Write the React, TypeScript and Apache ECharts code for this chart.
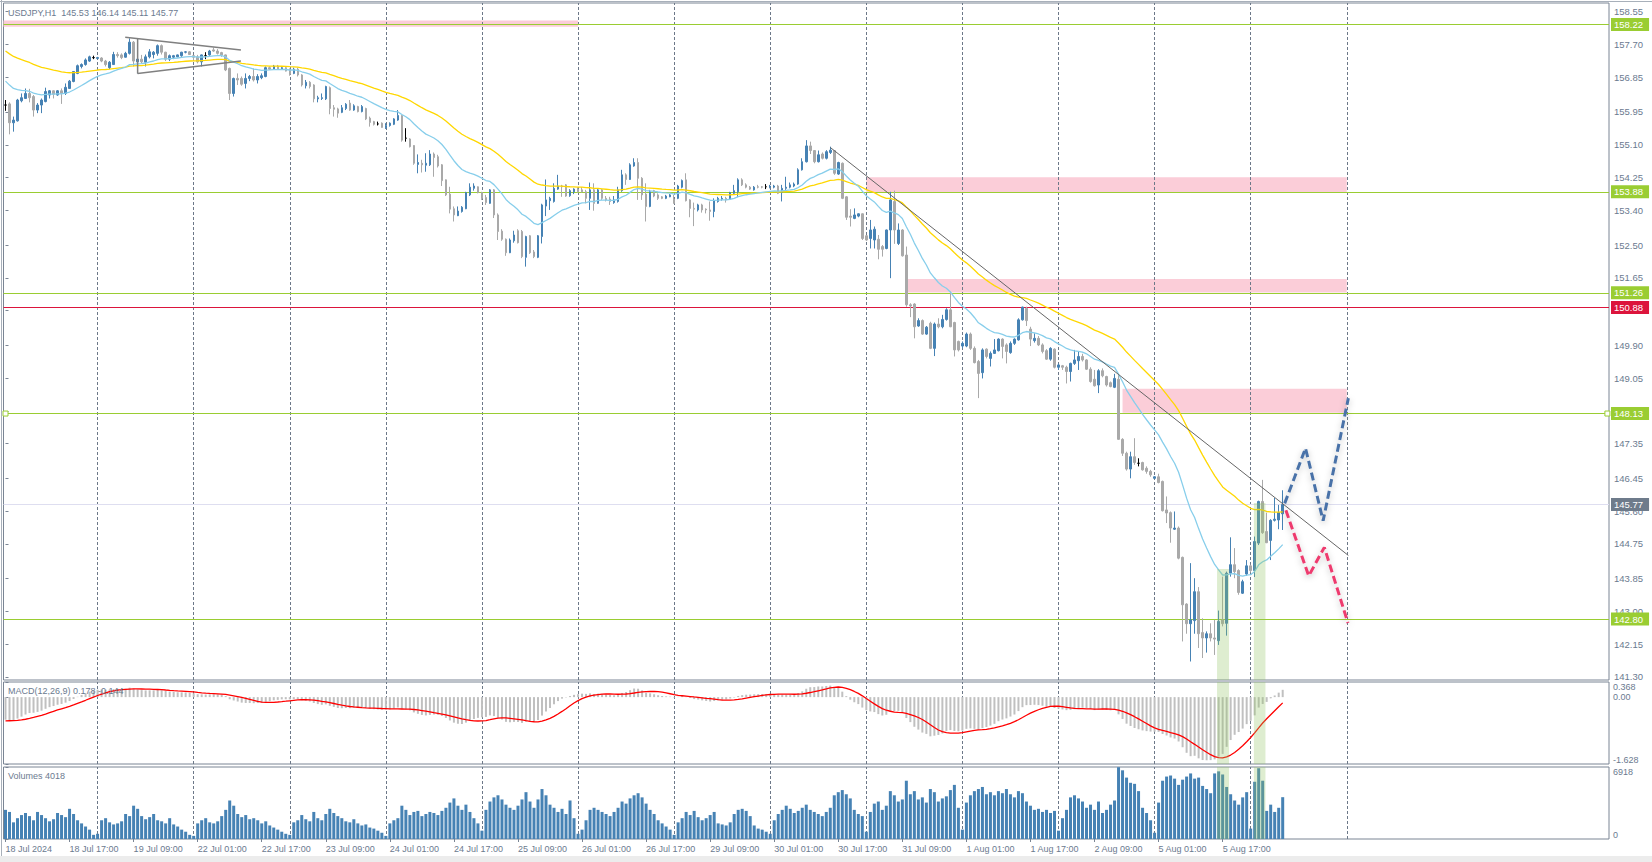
import React, { useEffect, useRef } from "react";
import * as echarts from "echarts";

const SYMBOL_TITLE = "USDJPY,H1  145.53 146.14 145.11 145.77";
const MACD_TITLE = "MACD(12,26,9) 0.178 -0.144";
const VOLUME_TITLE = "Volumes 4018";

// hourly bars starting 18 Jul 2024 01:00 — [open, close, low, high]
const candles: number[][] = [
  [156.13,156.13,155.98,156.26],[156.16,155.67,155.37,156.20],[155.67,155.74,155.44,155.83],[155.72,156.26,155.70,156.29],
  [156.24,156.32,156.20,156.43],[156.30,156.43,156.29,156.56],[156.43,156.32,156.20,156.55],[156.35,156.00,155.83,156.39],
  [156.00,156.13,155.92,156.18],[156.13,156.26,155.92,156.30],[156.22,156.48,156.20,156.58],[156.39,156.50,156.30,156.52],
  [156.50,156.41,156.30,156.51],[156.39,156.50,156.37,156.52],[156.50,156.43,156.16,156.56],[156.43,156.59,156.39,156.69],
  [156.56,156.75,156.55,156.78],[156.74,157.00,156.72,157.01],[156.95,157.15,156.93,157.18],[157.13,157.18,157.08,157.21],
  [157.18,157.30,157.15,157.34],[157.27,157.38,157.25,157.41],[157.36,157.36,157.32,157.41],[157.34,157.36,157.32,157.38],
  [157.35,157.27,157.24,157.37],[157.27,157.18,157.13,157.30],[157.10,157.24,157.06,157.27],[157.18,157.44,157.17,157.51],
  [157.44,157.41,157.36,157.50],[157.43,157.36,157.32,157.47],[157.37,157.47,157.36,157.51],[157.47,157.76,157.44,157.86],
  [157.76,157.27,157.13,157.79],[157.25,157.32,156.95,157.58],[157.32,157.25,157.21,157.43],[157.24,157.38,157.13,157.44],
  [157.38,157.51,157.34,157.58],[157.44,157.50,157.34,157.53],[157.47,157.67,157.41,157.70],[157.67,157.50,157.44,157.70],
  [157.50,157.32,157.27,157.51],[157.32,157.41,157.27,157.44],[157.37,157.41,157.32,157.43],[157.38,157.43,157.37,157.44],
  [157.41,157.50,157.38,157.51],[157.50,157.51,157.47,157.53],[157.51,157.44,157.43,157.53],[157.41,157.37,157.27,157.43],
  [157.38,157.25,157.21,157.43],[157.25,157.43,157.13,157.44],[157.41,157.41,157.32,157.50],[157.43,157.53,157.41,157.56],
  [157.56,157.53,157.51,157.62],[157.53,157.47,157.44,157.58],[157.49,157.43,157.38,157.51],[157.43,157.04,157.01,157.44],
  [157.08,156.43,156.26,157.10],[156.43,156.82,156.35,156.84],[156.82,156.78,156.65,156.95],[156.82,156.67,156.63,156.87],
  [156.69,156.82,156.56,156.95],[156.82,156.87,156.75,156.91],[156.87,156.78,156.74,157.08],[156.78,156.87,156.69,156.93],
  [156.84,156.89,156.80,156.95],[156.87,157.10,156.85,157.13],[157.10,157.06,157.04,157.13],[157.06,157.14,157.04,157.17],
  [157.14,157.06,157.04,157.17],[157.06,157.10,157.04,157.13],[157.10,157.01,157.00,157.13],[157.04,156.93,156.89,157.08],
  [156.95,157.06,156.93,157.10],[157.06,156.91,156.87,157.10],[156.91,156.65,156.61,156.93],[156.63,156.72,156.56,156.78],
  [156.72,156.61,156.56,156.75],[156.65,156.29,156.20,156.67],[156.29,156.32,156.20,156.37],[156.30,156.32,156.26,156.43],
  [156.29,156.61,156.26,156.63],[156.58,156.04,155.89,156.61],[156.06,156.02,155.83,156.13],[156.03,155.92,155.80,156.06],
  [155.94,156.06,155.92,156.13],[156.04,156.15,156.00,156.18],[156.18,156.00,155.98,156.26],[156.00,156.11,155.98,156.15],
  [156.09,155.96,155.94,156.11],[155.96,156.09,155.94,156.13],[156.04,155.77,155.74,156.06],[155.79,155.68,155.57,155.83],
  [155.70,155.63,155.60,155.72],[155.64,155.64,155.60,155.70],[155.66,155.55,155.54,155.68],[155.54,155.60,155.51,155.66],
  [155.60,155.66,155.57,155.68],[155.63,155.77,155.61,155.79],[155.74,155.86,155.72,156.00],[155.86,155.22,155.18,155.87],
  [155.27,155.27,155.18,155.53],[155.25,155.05,155.03,155.27],[155.08,154.62,154.58,155.09],[154.59,154.64,154.36,154.85],
  [154.62,154.58,154.38,154.71],[154.57,154.62,154.40,154.88],[154.58,154.86,154.55,154.96],[154.86,154.77,154.27,154.90],
  [154.79,154.55,154.51,154.84],[154.58,154.17,154.03,154.60],[154.19,153.80,153.77,154.20],[153.82,153.43,153.32,154.01],
  [153.44,153.28,153.11,153.50],[153.26,153.38,153.25,153.50],[153.37,153.48,153.34,153.51],[153.44,153.86,153.43,153.88],
  [153.80,154.00,153.77,154.10],[153.97,154.03,153.91,154.10],[154.01,153.86,153.84,154.02],[153.86,153.71,153.67,153.88],
  [153.73,153.60,153.54,153.80],[153.58,153.93,153.57,153.95],[153.93,153.28,153.20,153.95],[153.28,152.85,152.63,153.32],
  [152.86,152.65,152.61,152.91],[152.65,152.30,152.22,152.67],[152.30,152.63,152.29,152.67],[152.61,152.76,152.56,152.87],
  [152.87,152.56,152.54,152.91],[152.85,152.20,152.16,152.89],[152.18,152.72,151.94,152.74],[152.74,152.30,152.27,152.76],
  [152.32,152.20,152.16,152.37],[152.18,152.74,152.16,152.76],[152.72,153.54,152.54,153.57],[153.51,153.67,153.25,154.20],
  [153.65,153.71,153.41,153.75],[153.63,153.97,153.60,154.10],[153.95,154.03,153.93,154.32],[154.03,154.01,153.75,154.06],
  [154.06,153.77,153.75,154.08],[153.78,153.91,153.75,153.95],[153.88,153.95,153.82,153.97],[153.95,153.88,153.86,154.00],
  [153.93,153.88,153.86,154.00],[153.88,153.71,153.58,153.93],[153.71,153.93,153.41,154.12],[153.93,153.58,153.39,154.10],
  [153.58,153.93,153.57,153.97],[153.93,153.71,153.67,153.95],[153.71,153.67,153.63,153.77],[153.69,153.63,153.54,153.75],
  [153.60,153.67,153.57,153.77],[153.63,153.93,153.60,154.01],[153.91,154.32,153.88,154.45],[154.32,154.20,154.06,154.36],
  [154.20,154.58,154.19,154.62],[154.55,154.64,154.53,154.75],[154.64,154.23,153.67,154.75],[154.23,153.80,153.67,154.26],
  [153.82,153.50,153.11,154.10],[153.50,153.88,153.48,153.93],[153.91,153.77,153.74,153.93],[153.80,153.71,153.67,153.84],
  [153.75,153.71,153.69,153.77],[153.71,153.77,153.69,153.80],[153.75,153.80,153.74,153.82],[153.69,153.58,153.57,153.80],
  [153.71,154.03,153.69,154.06],[154.00,154.17,153.97,154.20],[154.19,153.65,153.63,154.36],[153.67,153.45,153.22,153.69],
  [153.45,153.43,152.99,153.60],[153.41,153.54,153.37,153.57],[153.54,153.41,153.34,153.57],[153.43,153.41,153.32,153.45],
  [153.41,153.37,153.13,153.63],[153.37,153.65,153.22,153.71],[153.63,153.71,153.60,153.75],[153.69,153.71,153.65,153.77],
  [153.71,153.67,153.60,153.75],[153.69,153.86,153.67,153.88],[153.84,153.91,153.80,154.06],[153.88,154.19,153.74,154.23],
  [154.19,154.06,154.03,154.23],[154.06,154.00,153.97,154.10],[154.00,153.95,153.93,154.03],[153.93,154.00,153.91,154.03],
  [154.01,154.00,153.97,154.06],[154.01,154.00,153.97,154.03],[154.01,154.01,153.95,154.08],[154.00,154.03,153.97,154.06],
  [154.00,154.03,153.97,154.06],[154.03,153.84,153.82,154.06],[153.86,153.97,153.63,154.06],[153.97,154.00,153.93,154.27],
  [154.00,154.06,153.97,154.12],[154.03,154.08,154.00,154.12],[154.08,154.45,154.06,154.49],[154.45,154.66,154.43,154.75],
  [154.66,155.07,154.64,155.22],[155.07,154.95,154.86,155.18],[154.95,154.66,154.62,154.96],[154.66,154.84,154.64,154.95],
  [154.86,154.75,154.72,154.90],[154.75,154.92,154.72,154.96],[154.90,154.96,154.86,155.05],[154.95,154.36,154.32,154.96],
  [154.34,154.64,154.32,154.66],[154.62,153.71,153.69,154.64],[153.75,153.22,153.15,153.77],[153.25,153.22,152.98,153.43],
  [153.19,153.28,153.17,153.45],[153.25,153.31,153.22,153.32],[153.31,152.67,152.63,153.32],[152.74,152.63,152.61,152.76],
  [152.67,152.89,152.41,153.15],[152.63,152.91,152.41,152.98],[152.65,152.39,152.13,152.76],[152.46,152.39,152.20,152.50],
  [152.41,152.89,152.39,152.90],[152.89,153.67,151.64,153.88],[153.63,152.89,152.53,153.91],[152.54,152.89,152.50,153.06],
  [152.89,152.22,152.20,152.91],[152.24,150.95,150.90,152.46],[150.95,150.92,150.63,150.99],[150.97,150.38,150.08,150.99],
  [150.40,150.54,150.38,150.60],[150.54,150.19,150.17,150.57],[150.19,150.37,150.17,150.40],[150.47,149.82,149.80,150.51],
  [149.82,150.45,149.62,150.49],[150.45,150.38,150.34,150.60],[150.38,150.57,150.34,150.69],[150.57,150.82,150.54,150.86],
  [150.82,150.38,150.37,151.29],[150.49,149.78,149.61,150.51],[150.00,149.78,149.74,150.02],[149.88,149.95,149.82,150.00],
  [149.88,150.19,149.85,150.23],[150.19,149.82,149.78,150.23],[149.82,149.45,149.43,149.87],[149.48,149.17,148.53,149.52],
  [149.19,149.78,149.04,149.82],[149.80,149.61,149.56,149.82],[149.56,149.69,149.35,149.74],[149.69,149.78,149.68,150.06],
  [149.76,150.06,149.74,150.08],[150.06,149.87,149.56,150.08],[149.91,149.74,149.43,149.95],[149.71,149.95,149.68,150.00],
  [149.95,150.06,149.91,150.08],[150.04,150.56,150.02,150.60],[150.56,150.89,150.54,150.90],[150.86,150.54,150.40,150.90],
  [150.32,150.06,149.88,150.38],[150.02,150.08,149.97,150.21],[150.08,149.91,149.88,150.14],[149.91,149.74,149.69,149.95],
  [149.76,149.54,149.52,149.80],[149.54,149.82,149.50,149.85],[149.80,149.33,149.30,149.82],[149.33,149.39,149.26,149.43],
  [149.37,149.33,149.26,149.39],[149.33,149.22,148.91,149.37],[149.22,149.43,148.96,149.45],[149.43,149.52,149.39,149.78],
  [149.50,149.61,149.26,149.74],[149.61,149.52,149.48,149.68],[149.52,149.28,149.26,149.54],[149.28,148.96,148.93,149.33],
  [149.02,148.85,148.83,149.26],[148.87,149.24,148.66,149.28],[149.24,149.11,149.07,149.30],[149.09,148.87,148.83,149.11],
  [148.93,148.83,148.81,148.96],[148.81,149.04,148.79,149.16],[149.02,147.46,147.45,149.13],[147.46,147.10,147.03,147.49],
  [147.10,146.69,146.65,147.14],[146.69,147.01,146.45,147.14],[147.01,146.86,146.80,147.49],[146.84,146.84,146.76,146.97],
  [146.86,146.67,146.65,146.88],[146.71,146.63,146.57,146.76],[146.63,146.54,146.49,146.67],[146.45,146.49,146.43,146.50],
  [146.49,146.34,146.32,146.57],[146.37,145.61,145.59,146.39],[145.63,145.55,145.29,145.98],[145.56,145.16,144.78,145.59],
  [145.13,145.16,145.11,145.59],[145.16,144.38,144.35,145.20],[144.40,143.17,142.22,144.42],[143.19,142.68,142.42,143.21],
  [142.68,142.78,141.70,144.25],[142.76,143.51,142.42,143.86],[143.51,142.42,142.05,143.63],[142.45,142.31,141.79,142.82],
  [142.31,142.42,141.93,142.48],[142.42,142.31,142.22,142.69],[142.31,142.28,141.87,142.78],[142.24,142.74,142.13,143.02],
  [142.78,142.68,142.61,143.90],[142.69,143.99,142.37,144.03],[143.99,144.21,143.90,144.92],[144.21,144.03,143.86,144.64],
  [144.06,143.49,143.43,144.09],[143.47,143.77,143.45,143.82],[143.97,144.18,143.92,144.33],[144.18,144.06,144.01,144.21],
  [144.06,144.81,143.89,144.94],[144.77,145.85,144.72,145.87],[145.85,145.04,145.01,146.41],[145.07,144.78,144.77,145.56],
  [144.84,145.36,144.33,145.39],[145.36,145.39,145.33,145.94],[145.37,145.56,145.13,145.76],[145.53,145.77,145.11,146.14],
];
const dojiIndices = [0, 22, 50, 93, 100, 190, 283];

const volumes: number[] = [
  2800,2600,1600,2000,2300,2500,2200,1800,2600,2300,2000,1700,1900,2500,2300,2100,2900,2400,1800,1500,1200,900,400,
  500,1800,2000,1600,1400,1500,1700,2400,2200,3200,2900,2200,1900,2100,2400,1800,1700,1500,2000,1400,1200,900,700,400,
  300,1500,1800,2000,1600,1500,1700,2200,2800,3700,3200,2400,2100,2300,1900,2000,1800,1500,1700,1300,1100,900,700,500,
  400,1600,1800,2300,1900,1700,2600,2000,1800,2400,2900,2500,2200,2000,1700,1600,1900,1500,1300,1400,1100,1000,800,600,
  300,1500,1800,2000,3200,2800,2300,2600,2700,2200,2400,2600,2500,2300,2700,3000,3500,3900,3200,2800,3300,2600,2000,1500,
  800,2800,3600,4000,4200,3800,3300,3000,2800,3200,3800,4500,3600,3000,3800,4800,4200,3300,3000,2600,2900,2400,3700,2000,
  500,900,1800,2800,3000,2800,2600,2400,2200,2600,3000,3600,3400,3900,4200,4400,4000,3400,2800,2400,1800,1500,1200,900,
  400,1600,2000,2600,2300,2700,2100,1800,2000,2300,2600,1500,1400,1300,1600,2400,2800,2900,2700,2200,1300,1000,900,700,
  500,1800,2400,2800,3200,2900,2500,2700,3000,3300,2800,2600,2400,2200,2600,3000,4200,4500,4700,4300,3900,2800,2400,2200,
  700,2600,3400,3600,2800,3200,4600,4200,3600,3800,5600,4300,4600,3800,4000,3500,4800,4500,3600,3900,4100,4700,5200,3000,
  900,3500,4200,4600,4800,5000,4300,4500,4200,4600,4400,4800,4300,4000,4600,4400,3600,3200,2800,2900,2600,2800,2500,2700,
  800,2000,2800,4000,4200,3900,3600,3000,3300,2800,3600,2500,2800,3300,3700,6900,6600,5900,5400,5300,4600,3000,2500,1800,
  600,3500,5600,6000,6100,5800,5200,5700,6000,6300,5800,5900,5100,4800,4400,6300,6500,6200,5000,4300,3700,3300,4000,4500,
  1000,5500,6800,5600,2700,3300,2600,3000,4018,
];

const priceTicks = [158.55,157.70,156.85,155.95,155.10,154.25,153.40,152.50,151.65,150.80,149.90,149.05,148.20,147.35,146.45,145.60,144.75,143.85,143.00,142.15,141.30];
const macdTicks = [-1.628, 0, 0.368];
const volumeTicks = [0, 6918];

const levels = [
  { value: 158.22, color: "#9acd32", label: "158.22" },
  { value: 153.88, color: "#9acd32", label: "153.88" },
  { value: 151.26, color: "#9acd32", label: "151.26" },
  { value: 150.88, color: "#dc143c", label: "150.88" },
  { value: 148.13, color: "#9acd32", label: "148.13" },
  { value: 142.80, color: "#9acd32", label: "142.80" },
];
const bidLevel = { value: 145.77, label: "145.77" };
const selectedLevel = 148.13;

// supply zones: [fromBar, toBar, low, high]
const zones = [
  [-0.5, 143, 158.16, 158.32],
  [215, 335, 153.86, 154.26],
  [225, 335, 151.27, 151.62],
  [279, 335, 148.15, 148.77],
];
// highlighted bars: [fromBar, toBar, topPrice]
const highlights = [
  [302.6, 305.6, 144.10],
  [311.8, 314.7, 145.81],
];
const trendLine = [[206, 155.03], [335.4, 144.45]];
const triangleTop = [[29.9, 157.89], [58.8, 157.56]];
const triangleSide = [[33, 157.855], [33, 156.95]];
const triangleBottom = [[33, 156.95], [58.8, 157.27]];
const bullPath = [[319.5, 145.80], [324.7, 147.23], [329.1, 145.35], [335.4, 148.53]];
const bearPath = [[319.8, 145.62], [325.5, 143.92], [329.4, 144.66], [335.3, 142.70]];

// indicator starting values read at the first bar
const EMA_FAST_START = 156.75;
const EMA_SLOW_START = 157.53;
const MACD_EMA12_START = 156.40;
const MACD_EMA26_START = 156.95;
const MACD_SIGNAL_START = -0.58;

const N_SLOTS = 401;
const LAST_GRID_BAR = 335;
const START_UTC = Date.UTC(2024, 6, 18, 1);
const MONTHS = ["Jan","Feb","Mar","Apr","May","Jun","Jul","Aug","Sep","Oct","Nov","Dec"];

const TEXT = "#6b7a8f";
const FRAME = "#7a8594";
const FONT = '"Liberation Sans", Arial, sans-serif';

function buildTimes(n: number): number[] {
  const out: number[] = [];
  let t = START_UTC;
  while (out.length < n) {
    const wd = new Date(t).getUTCDay();
    if (wd !== 0 && wd !== 6) out.push(t);
    t += 3600000;
  }
  return out;
}

function ema(src: number[], period: number, start: number): number[] {
  const k = 2 / (period + 1);
  const out: number[] = [];
  let prev = start;
  src.forEach((v, i) => {
    prev = i === 0 ? start : prev + k * (v - prev);
    out.push(prev);
  });
  return out;
}

export default function App() {
  const ref = useRef<HTMLDivElement>(null);

  useEffect(() => {
    document.body.style.margin = "0";
    const el = ref.current!;
    const chart = echarts.init(el, undefined, { renderer: "svg" });

    const times = buildTimes(N_SLOTS);
    const categories = times.map((t) => {
      const d = new Date(t);
      return `${d.getUTCFullYear()}-${d.getUTCMonth() + 1}-${d.getUTCDate()} ${d.getUTCHours()}`;
    });
    const labelText = times.map((t, i) => {
      const d = new Date(t);
      if (i === 0) return `${d.getUTCDate()} ${MONTHS[d.getUTCMonth()]} ${d.getUTCFullYear()}`;
      return `${d.getUTCDate()} ${MONTHS[d.getUTCMonth()]} ${String(d.getUTCHours()).padStart(2, "0")}:00`;
    });
    const gridBars = times
      .map((t, i) => ({ h: new Date(t).getUTCHours(), i }))
      .filter((o) => o.h === 0 && o.i <= LAST_GRID_BAR)
      .map((o) => o.i);

    const closes = candles.map((c) => c[1]);
    const emaFast = ema(closes, 20, EMA_FAST_START);
    const emaSlow = ema(closes, 50, EMA_SLOW_START);
    const e12 = ema(closes, 12, MACD_EMA12_START);
    const e26 = ema(closes, 26, MACD_EMA26_START);
    const macd = closes.map((_, i) => e12[i] - e26[i]);
    const signal = macd.map((_, i) => {
      let s = 0;
      for (let j = i - 8; j <= i; j++) s += j < 0 ? MACD_SIGNAL_START : macd[j];
      return s / 9;
    });

    const labelEvery = (idx: number) => idx % 16 === 0 && idx < candles.length;

    const catAxis = (gi: number, labels: boolean) => ({
      type: "category",
      gridIndex: gi,
      data: categories,
      boundaryGap: true,
      axisLine: { show: false },
      axisTick: { show: labels, interval: labelEvery, alignWithLabel: true, length: 3, lineStyle: { color: FRAME } },
      axisLabel: {
        show: labels, interval: labelEvery, align: "left", margin: 5,
        fontSize: 9, color: TEXT, fontFamily: FONT,
        formatter: (_v: string, i: number) => labelText[i],
      },
      splitLine: { show: false },
    });
    const valAxis = (gi: number) => ({ type: "value", gridIndex: gi, min: -0.5, max: N_SLOTS - 0.5, show: false });

    const yCommon = {
      type: "value", position: "right",
      axisLine: { show: false },
      splitLine: { show: false },
    };

    const vLines = gridBars.map((i) => ({
      xAxis: i,
      lineStyle: { type: [3, 2], color: "#6c7888", width: 1 },
      label: { show: false },
    }));

    const levelLines = [
      ...levels.map((l) => ({
        yAxis: l.value,
        lineStyle: { type: "solid", color: l.color, width: 1 },
        label: {
          show: true, position: "end", distance: 2, formatter: l.label,
          color: "#ffffff", backgroundColor: l.color, padding: [2, 6, 1, 3],
          fontSize: 9.5, fontFamily: FONT,
        },
      })),
      {
        yAxis: bidLevel.value,
        lineStyle: { type: "solid", color: "#dedef0", width: 1 },
        label: {
          show: true, position: "end", distance: 2, formatter: bidLevel.label,
          color: "#ffffff", backgroundColor: "#6e7b8b", padding: [2, 6, 1, 3],
          fontSize: 9.5, fontFamily: FONT,
        },
      },
    ];

    const greenArea = "rgba(145,195,98,0.3)";

    const candleData = candles.map((c, i) =>
      dojiIndices.includes(i)
        ? { value: c, itemStyle: { color: "#000", color0: "#000", borderColor: "#000", borderColor0: "#000" } }
        : c
    );

    const lineSeries = (data: number[][], color: string, width: number, extra: any = {}) => ({
      type: "line", xAxisIndex: 3, yAxisIndex: 0, data, showSymbol: false, symbol: "none",
      silent: true, z: 6, lineStyle: { color, width, ...extra },
    });

    const option: any = {
      animation: false,
      backgroundColor: "#ffffff",
      textStyle: { fontFamily: FONT },
      grid: [
        { left: 3.5, right: 43, top: 3, height: 677 },
        { left: 3.5, right: 43, top: 682, height: 82 },
        { left: 3.5, right: 43, top: 767, height: 72 },
      ].map((g) => ({ ...g, show: true, borderColor: FRAME, borderWidth: 1, backgroundColor: "#ffffff", containLabel: false, outerBoundsMode: "none" })),
      xAxis: [catAxis(0, false), catAxis(1, false), catAxis(2, true), valAxis(0), valAxis(1), valAxis(2)],
      yAxis: [
        {
          ...yCommon, gridIndex: 0, min: 141.22, max: 158.776,
          axisTick: { show: true, length: 3, customValues: priceTicks, lineStyle: { color: FRAME } },
          axisLabel: { customValues: priceTicks, margin: 5, fontSize: 9.5, color: TEXT, fontFamily: FONT, formatter: (v: number) => v.toFixed(2) },
        },
        {
          ...yCommon, gridIndex: 1, min: -1.628, max: 0.368,
          axisTick: { show: true, length: 3, customValues: macdTicks, lineStyle: { color: FRAME } },
          axisLabel: {
            customValues: macdTicks, margin: 4, fontSize: 9, color: TEXT, fontFamily: FONT,
            verticalAlignMinLabel: "bottom", verticalAlignMaxLabel: "top",
            formatter: (v: number) => (v === 0 ? "0.00" : v.toFixed(3)),
          },
        },
        {
          ...yCommon, gridIndex: 2, min: 0, max: 6918,
          axisTick: { show: true, length: 3, customValues: volumeTicks, lineStyle: { color: FRAME } },
          axisLabel: {
            customValues: volumeTicks, margin: 4, fontSize: 9, color: TEXT, fontFamily: FONT,
            verticalAlignMinLabel: "bottom", verticalAlignMaxLabel: "top",
            formatter: (v: number) => String(v),
          },
        },
      ],
      series: [
        {
          type: "line", xAxisIndex: 3, yAxisIndex: 0, data: [], silent: true,
          markArea: {
            silent: true, z: 1, itemStyle: { color: "#fbcdd8" },
            data: zones.map(([a, b, lo, hi]) => [{ xAxis: a, yAxis: hi }, { xAxis: b, yAxis: lo }]),
          },
        },
        {
          type: "line", xAxisIndex: 3, yAxisIndex: 0, data: [], silent: true, clip: false,
          markLine: { silent: true, z: 1, symbol: ["none", "none"], data: [...vLines, ...levelLines] },
          markPoint: {
            silent: true, z: 7, symbol: "rect", symbolSize: 5,
            itemStyle: { color: "#ffffff", borderColor: "#9acd32", borderWidth: 1 },
            label: { show: false },
            data: [{ coord: [0, selectedLevel] }, { coord: [N_SLOTS - 0.9, selectedLevel] }],
          },
        },
        {
          type: "candlestick", xAxisIndex: 0, yAxisIndex: 0, data: candleData, barWidth: 2, z: 3, silent: true,
          itemStyle: { color: "#4682b4", color0: "#a9a9a9", borderColor: "#4682b4", borderColor0: "#a9a9a9", borderWidth: 1 },
        },
        {
          type: "line", xAxisIndex: 0, yAxisIndex: 0, data: emaSlow.map((v) => +v.toFixed(3)), showSymbol: false, symbol: "none",
          silent: true, z: 4, lineStyle: { color: "#ffd700", width: 1.3 },
        },
        {
          type: "line", xAxisIndex: 0, yAxisIndex: 0, data: emaFast.map((v) => +v.toFixed(3)), showSymbol: false, symbol: "none",
          silent: true, z: 4, lineStyle: { color: "#87ceeb", width: 1.3 },
        },
        lineSeries(trendLine, "#666666", 1),
        lineSeries(triangleTop, "#808080", 1.5),
        lineSeries(triangleSide, "#808080", 1.5),
        lineSeries(triangleBottom, "#808080", 1.5),
        lineSeries(bullPath, "#4a72a8", 3, { type: [8, 4], shadowBlur: 6, shadowColor: "rgba(0,0,0,0.25)", shadowOffsetY: 2 }),
        lineSeries(bearPath, "#ee3a6e", 3, { type: [8, 4], shadowBlur: 6, shadowColor: "rgba(0,0,0,0.25)", shadowOffsetY: 2 }),
        {
          type: "line", xAxisIndex: 3, yAxisIndex: 0, data: [], silent: true,
          markArea: {
            silent: true, z: 5, itemStyle: { color: greenArea },
            data: highlights.map(([a, b, top]) => [{ xAxis: a, yAxis: top }, { xAxis: b, yAxis: 141.22 }]),
          },
        },
        {
          type: "line", xAxisIndex: 4, yAxisIndex: 1, data: [], silent: true,
          markLine: { silent: true, z: 1, symbol: ["none", "none"], data: vLines },
          markArea: {
            silent: true, z: 5, itemStyle: { color: greenArea },
            data: highlights.map(([a, b]) => [{ xAxis: a, yAxis: 0.368 }, { xAxis: b, yAxis: -1.628 }]),
          },
        },
        {
          type: "bar", xAxisIndex: 1, yAxisIndex: 1, data: macd.map((v) => +v.toFixed(4)), barWidth: 2, silent: true, z: 3,
          itemStyle: { color: "#c0c0c0" },
        },
        {
          type: "line", xAxisIndex: 1, yAxisIndex: 1, data: signal.map((v) => +v.toFixed(4)), showSymbol: false, symbol: "none",
          silent: true, z: 4, lineStyle: { color: "#ff0000", width: 1.3 },
        },
        {
          type: "line", xAxisIndex: 5, yAxisIndex: 2, data: [], silent: true,
          markLine: { silent: true, z: 1, symbol: ["none", "none"], data: vLines },
          markArea: {
            silent: true, z: 5, itemStyle: { color: greenArea },
            data: highlights.map(([a, b]) => [{ xAxis: a, yAxis: 6918 }, { xAxis: b, yAxis: 0 }]),
          },
        },
        {
          type: "bar", xAxisIndex: 2, yAxisIndex: 2, data: volumes, barWidth: 3, silent: true, z: 3,
          itemStyle: { color: "#4682b4" },
        },
      ],
      graphic: [
        { type: "rect", left: 0, top: 856, z: 0, shape: { width: 1652, height: 6 }, style: { fill: "#ececec" } },
        { type: "line", z: 10, shape: { x1: 0, y1: 1.5, x2: 1652, y2: 1.5 }, style: { stroke: "#a8b0ba", lineWidth: 1 } },
        { type: "line", z: 10, shape: { x1: 1.5, y1: 0, x2: 1.5, y2: 856 }, style: { stroke: "#a8b0ba", lineWidth: 1 } },
        { type: "text", left: 8, top: 8, z: 10, style: { text: SYMBOL_TITLE, fill: TEXT, font: `9px ${FONT}` } },
        { type: "text", left: 8, top: 686, z: 10, style: { text: MACD_TITLE, fill: TEXT, font: `9px ${FONT}` } },
        { type: "text", left: 8, top: 771, z: 10, style: { text: VOLUME_TITLE, fill: TEXT, font: `9px ${FONT}` } },
      ],
    };

    chart.setOption(option);
    return () => chart.dispose();
  }, []);

  return (
    <div
      ref={ref}
      style={{ position: "absolute", left: 0, top: 0, width: 1652, height: 862, background: "#ffffff" }}
    />
  );
}
